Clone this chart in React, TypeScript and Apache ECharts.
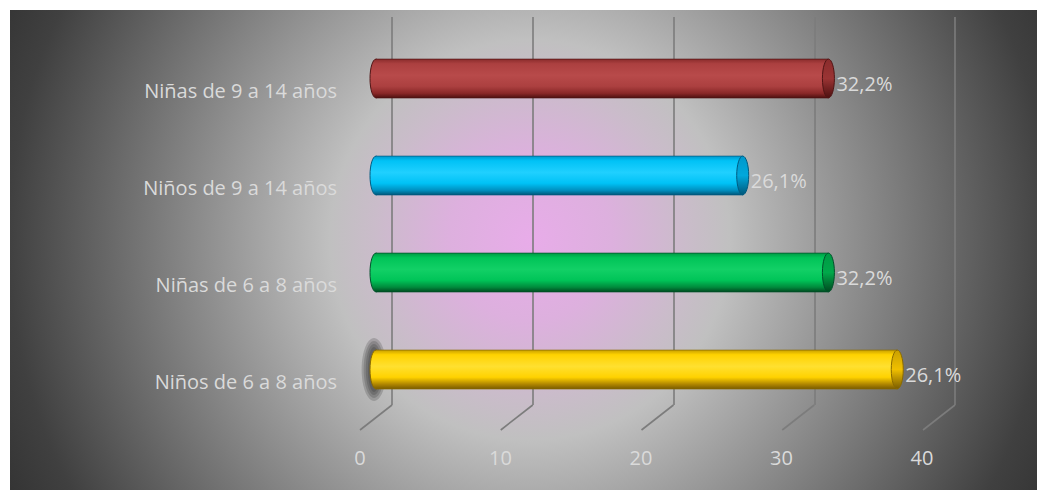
import React, { useEffect, useRef } from "react";
import * as echarts from "echarts";

const categories = [
  "Niños de 6 a 8 años",
  "Niñas de 6 a 8 años",
  "Niños de 9 a 14 años",
  "Niñas de 9 a 14 años",
];
const values = [37.1, 32.2, 26.1, 32.2];
const valueLabels = ["26,1%", "32,2%", "26,1%", "32,2%"];
const ticks = [0, 10, 20, 30, 40];

const barColors = [
  { top: "#c9a000", main: "#ffd200", light: "#ffe030", bottom: "#b08600", deep: "#7a5c00", cap: "#f0bf00", edge: "#8a6a00" },
  { top: "#009a44", main: "#00c458", light: "#12d066", bottom: "#008a3c", deep: "#004a20", cap: "#00a84a", edge: "#00502a" },
  { top: "#0098cc", main: "#00c2f6", light: "#20d0ff", bottom: "#0090c0", deep: "#00577a", cap: "#00a8dc", edge: "#005a80" },
  { top: "#8a2c2c", main: "#ac4040", light: "#b84a4a", bottom: "#8a2828", deep: "#4e1010", cap: "#9a3434", edge: "#501414" },
];

const FONT = "'Open Sans', 'Noto Sans', sans-serif";
const TEXT_COLOR = "#dadada";
const FONT_SIZE = 20;

// 3D planes
const BACK = { left: 392, top: 17, width: 563, height: 388 };
const MID = { left: 376, top: 30, width: 562, height: 388 };
const FRONT = { left: 360, top: 42, width: 562, height: 388 };

export default function App() {
  const ref = useRef<HTMLDivElement>(null);
  useEffect(() => {
    if (!ref.current) return;
    const chart = echarts.init(ref.current, null, { renderer: "svg" });
    const dx = FRONT.left - BACK.left;
    const dy = FRONT.top + FRONT.height - (BACK.top + BACK.height);

    const option: any = {
      animation: false,
      graphic: [
        {
          type: "rect",
          z: -10,
          silent: true,
          shape: { x: 10, y: 10, width: 1027, height: 480 },
          style: {
            fill: {
              type: "radial",
              global: true,
              x: 530,
              y: 240,
              r: 580,
              colorStops: [
                { offset: 0, color: "#e8ace9" },
                { offset: 0.14, color: "#ddb0de" },
                { offset: 0.27, color: "#cabcca" },
                { offset: 0.345, color: "#c0c0c0" },
                { offset: 0.5, color: "#9c9c9c" },
                { offset: 0.7, color: "#6e6e6e" },
                { offset: 0.9, color: "#404040" },
                { offset: 1, color: "#343434" },
              ],
            },
          },
        },
      ],
      grid: [
        { ...BACK, containLabel: false },
        { ...MID, containLabel: false },
        { ...FRONT, containLabel: false },
      ],
      xAxis: [
        {
          gridIndex: 0, type: "value", min: 0, max: 40, interval: 10,
          axisLine: { show: false }, axisTick: { show: false }, axisLabel: { show: false },
          splitLine: { show: true, lineStyle: { color: "#7c7c7c", width: 1.6 } },
        },
        {
          gridIndex: 1, type: "value", min: 0, max: 40, interval: 10, show: false,
        },
        {
          gridIndex: 2, type: "value", min: 0, max: 40, interval: 10,
          axisLine: { show: false }, axisTick: { show: false }, splitLine: { show: false },
          axisLabel: { show: true, color: TEXT_COLOR, fontSize: FONT_SIZE, fontFamily: FONT, margin: 17 },
        },
      ],
      yAxis: [
        { gridIndex: 0, type: "value", min: 0, max: 1, show: false },
        { gridIndex: 1, type: "category", data: categories, show: false },
        {
          gridIndex: 2, type: "category", data: categories,
          axisLine: { show: false }, axisTick: { show: false },
          axisLabel: { color: TEXT_COLOR, fontSize: FONT_SIZE, fontFamily: FONT, margin: 23 },
        },
      ],
      series: [
        {
          type: "custom",
          xAxisIndex: 0,
          yAxisIndex: 0,
          silent: true,
          z: 1,
          data: ticks.map((t) => [t, 0]),
          renderItem: (params: any, api: any) => {
            const p = api.coord([api.value(0), 0]);
            return {
              type: "line",
              shape: { x1: p[0], y1: p[1], x2: p[0] + dx, y2: p[1] + dy },
              style: { stroke: "#7c7c7c", lineWidth: 1.6 },
            };
          },
        },
        {
          type: "custom",
          xAxisIndex: 1,
          yAxisIndex: 1,
          silent: true,
          z: 5,
          data: values.map((v, i) => [v, i]),
          encode: { x: 0, y: 1 },
          renderItem: (params: any, api: any) => {
            const i = params.dataIndex;
            const idx = api.value(1);
            const v = api.value(0);
            const s = api.coord([0, idx]);
            const e = api.coord([v, idx]);
            const h = api.size([0, 1])[1] * 0.4;
            const c = barColors[i];
            const grad = () =>
              new echarts.graphic.LinearGradient(0, 0, 0, 1, [
                { offset: 0, color: c.top },
                { offset: 0.12, color: c.main },
                { offset: 0.42, color: c.light },
                { offset: 0.7, color: c.main },
                { offset: 0.88, color: c.bottom },
                { offset: 1, color: c.deep },
              ]);
            const capGrad = new echarts.graphic.LinearGradient(0, 0, 0, 1, [
              { offset: 0, color: c.top },
              { offset: 0.5, color: c.cap },
              { offset: 1, color: c.deep },
            ]);
            const y0 = s[1] - h / 2;
            const children: any[] = [];
            if (i === 0) {
              // soft dark glow behind the base of the first cylinder
              [12, 9, 6, 3].forEach((g) => {
                children.push({
                  type: "ellipse",
                  shape: { cx: s[0] - 2, cy: s[1], rx: 4 + g * 0.7, ry: h / 2 + g },
                  style: { fill: "rgba(35,35,35,0.2)" },
                });
              });
            }
            children.push(
              {
                type: "ellipse",
                shape: { cx: s[0], cy: s[1], rx: 6, ry: h / 2 },
                style: { fill: grad(), stroke: c.edge, lineWidth: 1 },
              },
              {
                type: "rect",
                shape: { x: s[0], y: y0, width: e[0] - s[0], height: h },
                style: { fill: grad() },
              },
              {
                type: "line",
                shape: { x1: s[0], y1: y0, x2: e[0], y2: y0 },
                style: { stroke: c.edge, lineWidth: 1, opacity: 0.7 },
              },
              {
                type: "line",
                shape: { x1: s[0], y1: y0 + h, x2: e[0], y2: y0 + h },
                style: { stroke: c.edge, lineWidth: 1, opacity: 0.8 },
              },
              {
                type: "ellipse",
                shape: { cx: e[0], cy: s[1], rx: 6, ry: h / 2 },
                style: { fill: capGrad, stroke: c.edge, lineWidth: 1 },
              },
              {
                type: "text",
                style: {
                  text: valueLabels[i],
                  x: e[0] + 8,
                  y: s[1] + 5,
                  verticalAlign: "middle",
                  align: "left",
                  fill: TEXT_COLOR,
                  fontSize: FONT_SIZE,
                  fontFamily: FONT,
                },
              }
            );
            return { type: "group", children };
          },
        },
      ],
    };
    chart.setOption(option);
    return () => chart.dispose();
  }, []);
  return (
    <div
      ref={ref}
      style={{ position: "fixed", left: 0, top: 0, width: 1037, height: 490, background: "#ffffff" }}
    />
  );
}
